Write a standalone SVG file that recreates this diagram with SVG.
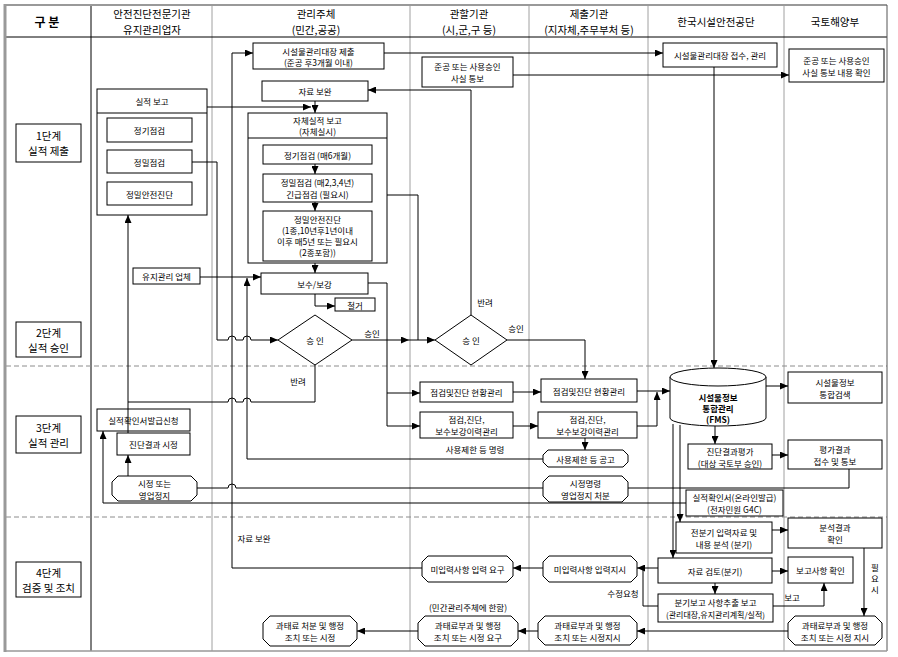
<svg xmlns="http://www.w3.org/2000/svg" width="898" height="657" viewBox="0 0 898 657">
<style>
.bg{fill:#fff}
.b{fill:#fff;stroke:#000;stroke-width:1}
.t{font-family:"Noto Sans CJK KR","Noto Sans CJK SC",sans-serif;font-size:8.5px;text-anchor:middle;dominant-baseline:central;fill:#000}
.h{font-size:10.5px}
.p{font-size:10.5px}
.s{font-size:8px}
.bd{font-weight:bold}
.c{fill:none;stroke:#000;stroke-width:1}
.a{marker-end:url(#ah)}
.g{stroke:#a0a0a0;stroke-width:1;fill:none}
.d{stroke:#8c8c8c;stroke-width:1;stroke-dasharray:5 3;fill:none}
</style>
<defs>
<marker id="ah" markerUnits="userSpaceOnUse" markerWidth="8" markerHeight="7" refX="8" refY="3.5" orient="auto">
<path d="M0,0 L8,3.5 L0,7 z" fill="#000"/>
</marker>
</defs>
<rect class="bg" x="0" y="0" width="898" height="657"/>

<g id="grid">
<line class="g" x1="212" y1="5" x2="212" y2="651"/>
<line class="g" x1="410" y1="5" x2="410" y2="651"/>
<line class="g" x1="529" y1="5" x2="529" y2="651"/>
<line class="g" x1="648" y1="5" x2="648" y2="651"/>
<line class="g" x1="784" y1="5" x2="784" y2="651"/>
<line x1="91" y1="5" x2="91" y2="651" stroke="#000" stroke-width="1"/>
<line x1="5" y1="37" x2="887" y2="37" stroke="#000" stroke-width="1"/>
<line class="d" x1="6" y1="366" x2="887" y2="366"/>
<line class="d" x1="6" y1="517" x2="887" y2="517"/>
<line x1="5" y1="5" x2="887" y2="5" stroke="#999" stroke-width="2"/>
<line x1="5" y1="4" x2="5" y2="652" stroke="#999" stroke-width="3"/>
<line x1="887" y1="5" x2="887" y2="651" stroke="#555" stroke-width="1"/>
<line x1="5" y1="651" x2="887" y2="651" stroke="#999" stroke-width="1.5"/>
</g>

<g id="header">
<text class="t h bd" x="47" y="21" style="font-size:12px">구 분</text>
<text class="t h" x="152" y="13">안전진단전문기관</text>
<text class="t h" x="152" y="29">유지관리업자</text>
<text class="t h" x="316" y="13">관리주체</text>
<text class="t h" x="316" y="29">(민간,공공)</text>
<text class="t h" x="469" y="13">관할기관</text>
<text class="t h" x="469" y="29">(시,군,구 등)</text>
<text class="t h" x="589" y="13">제출기관</text>
<text class="t h" x="589" y="29">(지자체,주무부처 등)</text>
<text class="t h" x="716" y="21">한국시설안전공단</text>
<text class="t h" x="835" y="21">국토해양부</text>
</g>

<g id="phase1"><rect class="b" x="16" y="124" width="65" height="38"/><text class="t p" x="48.5" y="135.5">1단계</text><text class="t p" x="48.5" y="150.5">실적 제출</text></g>
<g id="phase2"><rect class="b" x="16" y="322" width="65" height="35"/><text class="t p" x="48.5" y="332">2단계</text><text class="t p" x="48.5" y="347">실적 승인</text></g>
<g id="phase3"><rect class="b" x="16" y="416" width="65" height="37"/><text class="t p" x="48.5" y="427">3단계</text><text class="t p" x="48.5" y="442">실적 관리</text></g>
<g id="phase4"><rect class="b" x="16" y="562" width="65" height="35"/><text class="t p" x="48.5" y="572">4단계</text><text class="t p" x="48.5" y="587">검증 및 조치</text></g>

<g id="n_report">
<rect class="b" x="97" y="89" width="110" height="126"/>
<line x1="97" y1="113" x2="207" y2="113" stroke="#000"/>
<text class="t" x="152" y="101">실적 보고</text>
<rect class="b" x="107" y="118" width="85" height="24"/><text class="t" x="149.5" y="130">정기점검</text>
<rect class="b" x="107" y="150" width="85" height="23"/><text class="t" x="149.5" y="161.5">정밀점검</text>
<rect class="b" x="107" y="182" width="85" height="23"/><text class="t" x="149.5" y="193.5">정밀안전진단</text>
</g>

<g id="n_ledger"><rect class="b" x="253" y="43" width="131" height="26"/><text class="t" x="318.5" y="51">시설물관리대장 제출</text><text class="t" x="318.5" y="62">(준공 후3개월 이내)</text></g>
<g id="n_supp"><rect class="b" x="262" y="81" width="106" height="20"/><text class="t" x="315" y="91">자료 보완</text></g>
<g id="n_self">
<rect class="b" x="248" y="113" width="139" height="150"/>
<line x1="248" y1="138" x2="387" y2="138" stroke="#000"/>
<text class="t" x="317.5" y="120">자체실적 보고</text><text class="t" x="317.5" y="131">(자체실시)</text>
<rect class="b" x="263" y="145" width="109" height="19"/><text class="t" x="317.5" y="154.5">정기점검 (매6개월)</text>
<rect class="b" x="263" y="174" width="109" height="28"/><text class="t" x="317.5" y="182">정밀점검 (매2,3,4년)</text><text class="t" x="317.5" y="194">긴급점검 (필요시)</text>
<rect class="b" x="263" y="211" width="109" height="50"/><text class="t" x="317.5" y="219">정밀안전진단</text><text class="t" x="317.5" y="230">(1종,10년후1년이내</text><text class="t" x="317.5" y="241">이후 매5년 또는 필요시</text><text class="t" x="317.5" y="252">(2종포함))</text>
</g>
<g id="n_repair"><rect class="b" x="261" y="273" width="107" height="21"/><text class="t" x="314.5" y="283.5">보수/보강</text></g>
<g id="n_demol"><rect class="b" x="335" y="298" width="40" height="13"/><text class="t" x="355" y="304.5">철거</text></g>
<g id="n_maint"><rect class="b" x="133" y="268" width="67" height="16"/><text class="t" x="166.5" y="276">유지관리 업체</text></g>
<g id="n_appr1"><polygon class="b" points="315,315 352,340 315,365 278,340"/><text class="t" x="315" y="340">승 인</text></g>
<g id="n_appr2"><polygon class="b" points="471,315 507,340 471,365 435,340"/><text class="t" x="471" y="340">승 인</text></g>
<g id="n_notice"><rect class="b" x="422" y="57" width="91" height="30"/><text class="t" x="467.5" y="66">준공 또는 사용승인</text><text class="t" x="467.5" y="78">사실 통보</text></g>
<g id="n_stat1"><rect class="b" x="420" y="382" width="93" height="20"/><text class="t" x="466.5" y="392">점검및진단 현황관리</text></g>
<g id="n_hist1"><rect class="b" x="420" y="412" width="93" height="26"/><text class="t" x="466.5" y="419">점검,진단,</text><text class="t" x="466.5" y="431">보수보강이력관리</text></g>
<g id="n_stat2"><rect class="b" x="541" y="379" width="96" height="23"/><text class="t" x="589" y="390.5">점검및진단 현황관리</text></g>
<g id="n_hist2"><rect class="b" x="538" y="412" width="99" height="26"/><text class="t" x="587.5" y="419">점검,진단,</text><text class="t" x="587.5" y="431">보수보강이력관리</text></g>
<g id="n_restrict"><polygon class="b" points="548,450 623,450 628,455 628,462 623,467 548,467 543,462 543,455"/><text class="t" x="585.5" y="458.5">사용제한 등 공고</text></g>
<g id="n_order"><polygon class="b" points="549,476 622,476 628,482 628,496 622,502 549,502 543,496 543,482"/><text class="t" x="585.5" y="483">시정명령</text><text class="t" x="585.5" y="495">영업정지 처분</text></g>
<g id="n_certreq"><rect class="b" x="97" y="409" width="93" height="22"/><text class="t" x="143.5" y="420">실적확인서발급신청</text></g>
<g id="n_fix"><rect class="b" x="117" y="433" width="73" height="22"/><text class="t" x="153.5" y="444">진단결과 시정</text></g>
<g id="n_stop"><polygon class="b" points="118,476 191,476 197,482 197,495 191,501 118,501 112,495 112,482"/><text class="t" x="154.5" y="482.5">시정 또는</text><text class="t" x="154.5" y="494.5">영업정지</text></g>
<g id="n_recv"><rect class="b" x="663" y="43" width="114" height="24"/><text class="t" x="720" y="55">시설물관리대장 접수, 관리</text></g>
<g id="n_check"><rect class="b" x="789" y="49" width="95" height="33"/><text class="t" x="836.5" y="60">준공 또는 사용승인</text><text class="t" x="836.5" y="72">사실 통보 내용 확인</text></g>
<g id="n_fms"><path class="b" d="M670,377 V418 A48,8 0 0 0 766,418 V377"/><ellipse class="b" cx="718" cy="377" rx="48" ry="9"/><text class="t bd" x="718" y="397">시설물정보</text><text class="t bd" x="718" y="408">통합관리</text><text class="t bd" x="718" y="419">(FMS)</text></g>
<g id="n_search"><rect class="b" x="788" y="372" width="94" height="31"/><text class="t" x="835" y="382">시설물정보</text><text class="t" x="835" y="394">통합검색</text></g>
<g id="n_eval"><rect class="b" x="688" y="444" width="84" height="25"/><text class="t" x="730" y="450.5">진단결과평가</text><text class="t" x="730" y="462.5">(대상 국토부 승인)</text></g>
<g id="n_evalres"><rect class="b" x="788" y="440" width="94" height="29"/><text class="t" x="835" y="449">평가결과</text><text class="t" x="835" y="461">접수 및 통보</text></g>
<g id="n_online"><rect class="b" x="686" y="490" width="97" height="26"/><text class="t" x="734.5" y="497">실적확인서(온라인발급)</text><text class="t" x="734.5" y="509">(전자민원 G4C)</text></g>
<g id="n_prev"><rect class="b" x="676" y="522" width="96" height="31"/><text class="t" x="724" y="532">전분기 입력자료 및</text><text class="t" x="724" y="544">내용 분석 (분기)</text></g>
<g id="n_anal"><rect class="b" x="788" y="518" width="94" height="30"/><text class="t" x="835" y="527">분석결과</text><text class="t" x="835" y="539">확인</text></g>
<g id="n_review"><rect class="b" x="658" y="558" width="114" height="25"/><text class="t" x="715" y="570.5">자료 검토(분기)</text></g>
<g id="n_rep"><rect class="b" x="788" y="557" width="65" height="26"/><text class="t" x="820.5" y="570">보고사항 확인</text></g>
<g id="n_qrep"><rect class="b" x="658" y="594" width="115" height="28"/><text class="t" x="715.5" y="602">분기보고 사항추출 보고</text><text class="t s" x="715.5" y="614">(관리대장,유지관리계획/실적)</text></g>
<g id="n_miss2"><polygon class="b" points="549,556 631,556 637,562 637,576 631,582 549,582 543,576 543,562"/><text class="t" x="590" y="569">미입력사항 입력지시</text></g>
<g id="n_miss1"><polygon class="b" points="428,556 507,556 513,562 513,576 507,582 428,582 422,576 422,562"/><text class="t" x="467.5" y="569">미입력사항 입력 요구</text></g>
<g id="n_fine4"><polygon class="b" points="795,616 875,616 882,623 882,638 875,645 795,645 788,638 788,623"/><text class="t" x="835" y="624.5">과태료부과 및 행정</text><text class="t" x="835" y="636.5">조치 또는 시정 지시</text></g>
<g id="n_fine3"><polygon class="b" points="545,616 630,616 637,623 637,638 630,645 545,645 538,638 538,623"/><text class="t" x="587.5" y="624.5">과태료부과 및 행정</text><text class="t" x="587.5" y="636.5">조치 또는 시정지시</text></g>
<g id="n_fine2"><polygon class="b" points="425,616 511,616 518,623 518,639 511,646 425,646 418,639 418,623"/><text class="t" x="468" y="625">과태료부과 및 행정</text><text class="t" x="468" y="637">조치 또는 시정 요구</text></g>
<g id="n_fine1"><polygon class="b" points="270,616 350,616 357,623 357,639 350,646 270,646 263,639 263,623"/><text class="t" x="310" y="625">과태료 처분 및 행정</text><text class="t" x="310" y="637">조치 또는 시정</text></g>

<g id="connectors">
<path class="c a" d="M192,162 H217 V340 H228 a4,4 0 0 1 8,0 H243 a4,4 0 0 1 8,0 H278"/>
<path class="c a" d="M207,107 H311"/>
<path class="c a" d="M315,101 V113"/>
<path class="c a" d="M422,568 H232 V53 H253"/>
<path class="c a" d="M384,53 H663"/>
<path class="c a" d="M513,75 H789"/>
<path class="c a" d="M471,315 V90 H368"/>
<path class="c a" d="M315,164 V174"/>
<path class="c a" d="M315,202 V211"/>
<path class="c a" d="M315,263 V273"/>
<path class="c a" d="M315,294 V306 H335"/>
<path class="c a" d="M200,277 H261"/>
<path class="c a" d="M543,459 H247 V278"/>
<path class="c a" d="M352,340 H409"/>
<path class="c a" d="M409,340 H435"/>
<path class="c" d="M387,195 H418 V340"/>
<path class="c a" d="M507,340 H585 V379"/>
<path class="c a" d="M368,283 H387 V426 H420"/>
<path class="c a" d="M387,393 H420"/>
<path class="c a" d="M513,392 H541"/>
<path class="c a" d="M513,426 H538"/>
<path class="c a" d="M637,391 H670"/>
<path class="c a" d="M637,426 H657 V392"/>
<path class="c a" d="M585,438 V450"/>
<path class="c" d="M543,488 H236 a4,4 0 0 0 -8,0 H197"/>
<path class="c" d="M628,488 H849 V469"/>
<path class="c a" d="M686,503 H103 V431"/>
<path class="c a" d="M128,476 V455"/>
<path class="c" d="M315,365 V402 H251 a4,4 0 0 0 -8,0 H236 a4,4 0 0 0 -8,0 H128"/>
<path class="c a" d="M128,433 V215"/>
<path class="c a" d="M766,386 H788"/>
<path class="c a" d="M714,67 V368"/>
<path class="c a" d="M715,426 V444"/>
<path class="c a" d="M772,455 H788"/>
<path class="c a" d="M673,424 V558"/>
<path class="c a" d="M680,425 V522"/>
<path class="c a" d="M772,530 H788"/>
<path class="c a" d="M772,571 H788"/>
<path class="c a" d="M658,568 H637"/>
<path class="c a" d="M715,583 V594"/>
<path class="c a" d="M773,606 H824 V583"/>
<path class="c" d="M658,606 H643 V568"/>
<path class="c a" d="M864,548 V616"/>
<path class="c a" d="M788,631 H637"/>
<path class="c a" d="M538,631 H518"/>
<path class="c a" d="M418,631 H357"/>
<path class="c a" d="M543,568 H513"/>
</g>

<g id="labels">
<text class="t" x="372" y="333">승인</text>
<text class="t" x="516" y="328">승인</text>
<text class="t" x="298" y="381">반려</text>
<text class="t" x="485" y="302">반려</text>
<text class="t" x="475" y="449">사용제한 등 명령</text>
<text class="t" x="623" y="593">수정요청</text>
<text class="t" x="792" y="597">보고</text>
<text class="t" x="875" y="567">필</text>
<text class="t" x="875" y="578">요</text>
<text class="t" x="875" y="589">시</text>
<text class="t" x="254" y="538">자료 보완</text>
<text class="t" x="468" y="607">(민간관리주체에 한함)</text>
</g>
</svg>
